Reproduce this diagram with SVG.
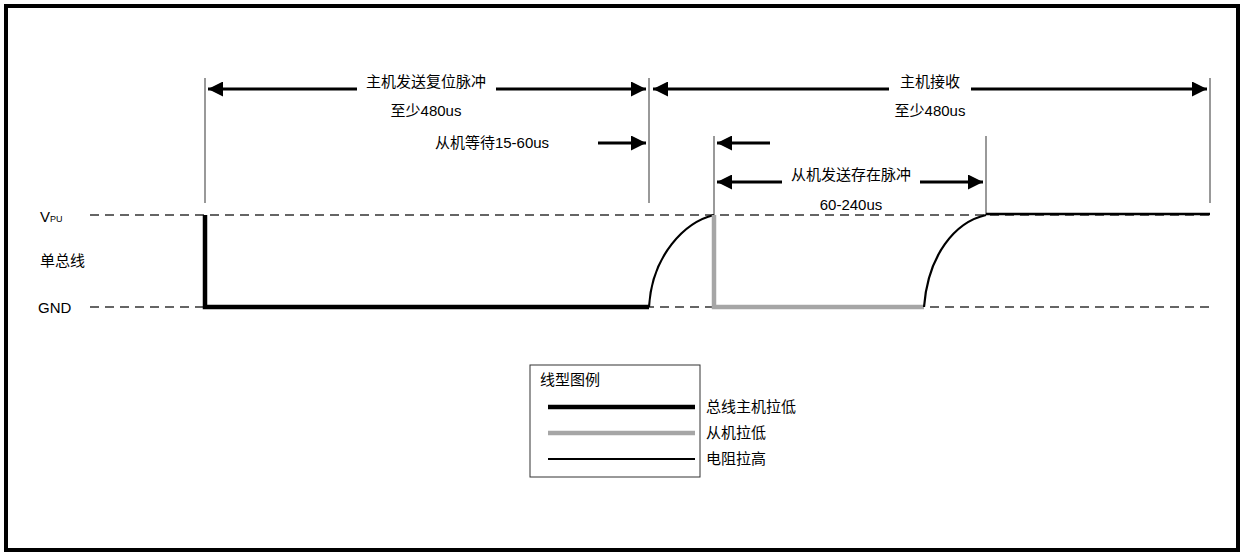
<svg xmlns="http://www.w3.org/2000/svg" width="1245" height="559" viewBox="0 0 1245 559">
<defs>
<marker id="ah" viewBox="0 0 10 10" refX="10" refY="5" markerWidth="6" markerHeight="5" markerUnits="strokeWidth" orient="auto-start-reverse"><path d="M0,0 L10,5 L0,10 z" fill="#000"/></marker>
<style>
text{font-family:"Liberation Sans","Noto Sans CJK SC",sans-serif;font-size:15px;fill:#000}
.m{text-anchor:middle}
.dash{stroke:#333;stroke-width:1.3;stroke-dasharray:9,6;fill:none}
.tick{stroke:#999;stroke-width:2;fill:none}
.arr{stroke:#000;stroke-width:3;fill:none;marker-end:url(#ah)}
.host{stroke:#000;stroke-width:4.5;fill:none}
.slave{stroke:#a6a6a6;stroke-width:4.5;fill:none}
.res{stroke:#000;stroke-width:2.2;fill:none}
</style>
</defs>
<rect width="1245" height="559" fill="#fff"/>
<rect x="6" y="6" width="1232" height="544" fill="none" stroke="#000" stroke-width="4"/>
<g id="axes">
<line class="dash" x1="90" y1="215" x2="1210" y2="215"/>
<line class="dash" x1="90" y1="307" x2="1210" y2="307"/>
<text x="40" y="222">V<tspan font-size="9">PU</tspan></text>
<text x="40" y="266">单总线</text>
<text x="38" y="313">GND</text>
</g>
<g id="ticks">
<line class="tick" x1="205" y1="78" x2="205" y2="203"/>
<line class="tick" x1="649" y1="78" x2="649" y2="203"/>
<line class="tick" x1="714" y1="136" x2="714" y2="215"/>
<line class="tick" x1="986" y1="136" x2="986" y2="215"/>
<line class="tick" x1="1210" y1="78" x2="1210" y2="203"/>
</g>
<g id="connectors">
<line class="arr" x1="357" y1="89" x2="208" y2="89"/>
<line class="arr" x1="496" y1="89" x2="646" y2="89"/>
<line class="arr" x1="889" y1="89" x2="653" y2="89"/>
<line class="arr" x1="971" y1="89" x2="1207" y2="89"/>
<line class="arr" x1="598" y1="143" x2="646" y2="143"/>
<line class="arr" x1="770" y1="143" x2="717" y2="143"/>
<line class="arr" x1="782" y1="182" x2="717" y2="182"/>
<line class="arr" x1="920" y1="182" x2="983" y2="182"/>
</g>
<g id="labels">
<text class="m" x="426" y="87">主机发送复位脉冲</text>
<text class="m" x="426" y="116">至少480us</text>
<text class="m" x="492" y="148">从机等待15-60us</text>
<text class="m" x="930" y="87">主机接收</text>
<text class="m" x="930" y="116">至少480us</text>
<text class="m" x="851" y="180">从机发送存在脉冲</text>
<text class="m" x="851" y="210">60-240us</text>
</g>
<g id="waveform">
<path class="host" d="M205,215 V307 H649"/>
<path class="res" d="M649,307 C652,255 685,222 714,215"/>
<path class="slave" d="M714,215 V307 H924"/>
<path class="res" d="M924,307 C928,255 955,222 986,215"/>
<line x1="986" y1="214" x2="1210" y2="214" stroke="#000" stroke-width="2.5"/>
</g>
<g id="legend">
<rect x="530" y="365" width="170" height="112" fill="#fff" stroke="#333" stroke-width="1"/>
<text x="540" y="385">线型图例</text>
<line class="host" x1="548" y1="407" x2="695" y2="407"/>
<line class="slave" x1="548" y1="433" x2="695" y2="433"/>
<line class="res" x1="548" y1="459" x2="695" y2="459"/>
<text x="706" y="412">总线主机拉低</text>
<text x="706" y="438">从机拉低</text>
<text x="706" y="464">电阻拉高</text>
</g>
</svg>
